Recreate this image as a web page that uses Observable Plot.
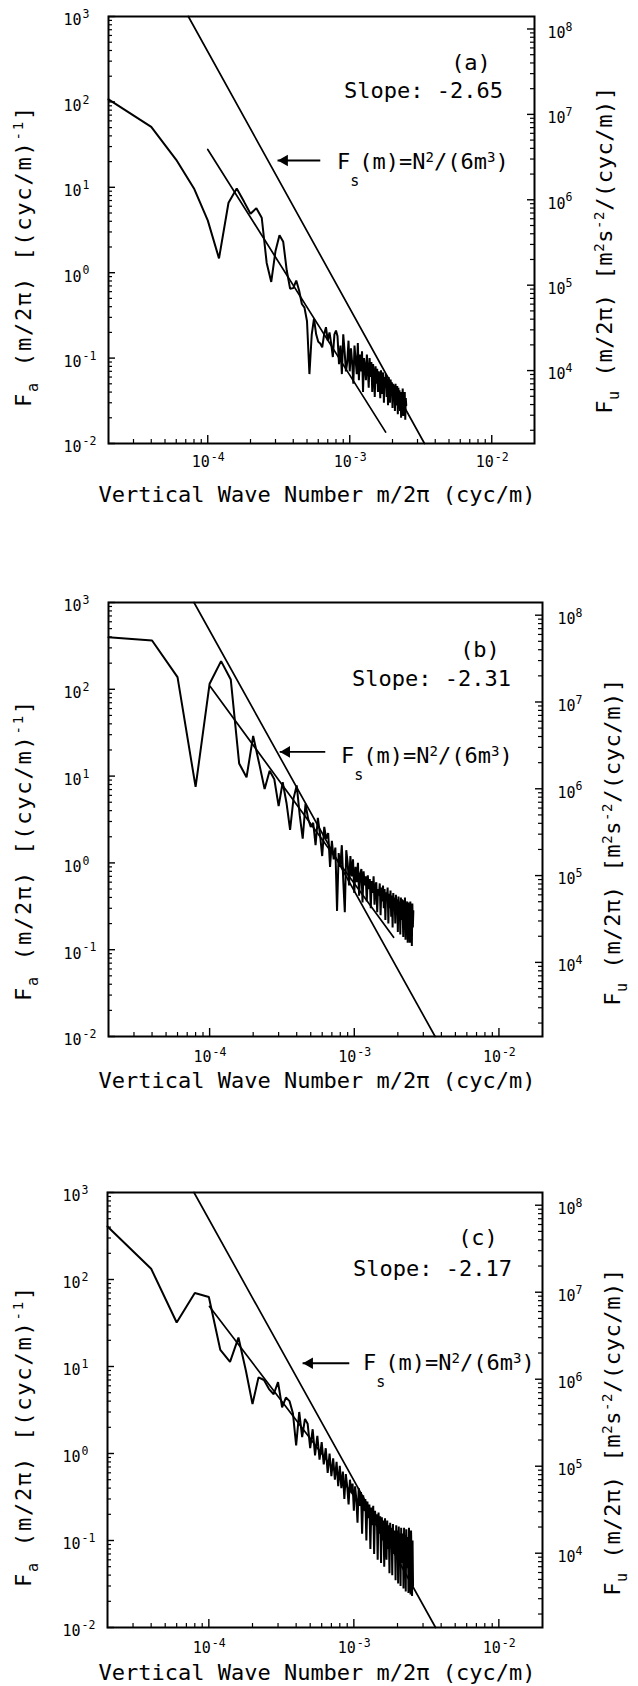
<!DOCTYPE html>
<html><head><meta charset="utf-8">
<script src="https://cdn.jsdelivr.net/npm/d3@7"></script>
<script src="https://cdn.jsdelivr.net/npm/@observablehq/plot@0.6"></script>
<style>
body{margin:0;background:#fff;}
#root{position:relative;width:638px;height:1686px;background:#fff;overflow:hidden;}
.panel{position:absolute;left:0;width:638px;}
</style></head><body><div id="root"></div>
<script>
// ---------- data ----------
const dk = 2e-5; // wavenumber spacing of spectral estimates (cyc/m)
const specA = [107,51,21,9.7,4.1,1.47,6.6,9.7,6.8,4.9,5.7,4.4,1.3,0.78,1.8,2.75,2.3,1.06,0.65,0.66,
 0.81,0.62,0.43,0.39,0.27,0.065,0.19,0.29,0.19,0.155,0.148,0.134,0.19,0.23,0.16,0.2,0.148,0.103,0.19,0.21,
 0.18,0.085,0.14,0.065,0.19,0.12,0.07,0.09,0.16,0.07,
 0.13,0.088,0.05,0.14,0.095,0.065,0.15,0.055,0.11,0.07,
 0.12,0.04,0.1,0.08,0.055,0.11,0.075,0.045,0.1,0.06,
 0.09,0.04,0.085,0.065,0.035,0.08,0.05,0.075,0.04,0.07,
 0.06,0.034,0.072,0.05,0.038,0.068,0.03,0.06,0.045,0.065,
 0.035,0.058,0.028,0.06,0.042,0.03,0.056,0.036,0.052,0.026,
 0.05,0.034,0.048,0.024,0.05,0.035,0.028,0.047,0.022,0.045,
 0.03,0.042,0.024,0.04,0.02,0.038,0.03,0.044,0.021,0.036,0.026,0.04,0.019,0.034,0.028];
const specB = [398,365,138,7.5,116,211,130,14,9.7,29,14,7.1,11.5,9.2,4.5,8.5,4.9,2.4,5.5,7.8,
 3.5,1.9,4.8,3.2,2.6,2.9,1.6,3.3,2.1,1.2,2.6,1.9,2.2,0.9,1.8,1.1,
 1.5,0.28,1.3,0.9,
 1.6,0.6,0.27,1.4,1.0,0.55,1.2,0.7,1.1,0.45,
 0.9,0.6,1.0,0.42,0.75,0.85,0.35,0.8,0.55,0.7,
 0.36,0.72,0.5,0.65,0.3,0.62,0.45,0.7,0.33,0.55,
 0.6,0.27,0.5,0.42,0.58,0.25,0.52,0.36,0.55,0.3,
 0.5,0.22,0.46,0.38,0.52,0.2,0.44,0.3,0.48,0.24,
 0.42,0.18,0.45,0.3,0.4,0.2,0.43,0.26,0.38,0.16,
 0.41,0.28,0.36,0.15,0.4,0.22,0.38,0.27,0.14,0.37,
 0.24,0.4,0.13,0.33,0.28,0.36,0.12,0.35,0.21,0.3,
 0.12,0.36,0.2,0.32,0.11,0.34,0.18,0.28];
const specC = [406,133,32,70,63,15.5,11.3,21.5,9,3.7,7.5,7.0,5.5,4.8,6.6,3.4,4.4,4.0,2.9,1.24,
 3.0,1.54,2.5,2.2,1.15,1.9,0.95,1.6,0.85,1.35,0.75,1.15,0.6,1.0,0.55,0.88,0.5,0.8,0.42,0.72,
 0.4,0.62,0.3,0.58,0.42,0.26,0.5,0.36,0.45,0.22,
 0.42,0.3,0.16,0.4,0.25,0.36,0.12,0.33,0.22,0.3,
 0.1,0.28,0.18,0.26,0.08,0.24,0.15,0.25,0.07,0.22,
 0.16,0.2,0.06,0.21,0.12,0.19,0.055,0.185,0.1,0.17,
 0.05,0.18,0.11,0.06,0.17,0.08,0.15,0.042,0.16,0.09,
 0.14,0.04,0.155,0.07,0.13,0.1,0.035,0.15,0.065,0.13,
 0.032,0.145,0.08,0.12,0.03,0.14,0.055,0.12,0.09,0.028,
 0.14,0.05,0.115,0.026,0.135,0.07,0.048,0.11,0.025,0.14,
 0.045,0.11,0.024,0.13,0.07,0.023,0.1,0.03];

// fitted power-law lines (endpoints)
const fitAx = [1.0e-4, 1.79e-3], fitAy = [27.7, 0.0136];
const fitBx = [1.01e-4, 1.87e-3], fitBy = [108, 0.139];
const fitCx = [1.01e-4, 2.0e-3], fitCy = [49, 0.072];
// F_s(m) = N^2/(6 m^3) reference lines
const fsAx = [7.3e-5, 3.36e-3], fsAy = [1000, 0.01];
const fsBx = [7.8e-5, 3.62e-3], fsBy = [1000, 0.01];
const fsCx = [7.9e-5, 3.66e-3], fsCy = [1000, 0.01];
// arrows [tail, tip]
const arrAx = [6.2e-4, 3.1e-4], arrAy = [20.6, 20.6];
const arrBx = [6.3e-4, 3.05e-4], arrBy = [19, 19];
const arrCx = [9.3e-4, 4.43e-4], arrCy = [10.9, 10.9];

const panelLabels = ["(a)", "(b)", "(c)"];
const slopes = ["Slope: -2.65", "Slope: -2.31", "Slope: -2.17"];

// axes / ticks
const xDomain = [2e-5, 2e-2];
const yDomain = [1e-2, 1e3];
const xMajor = [1e-4, 1e-3, 1e-2], xExp = ["-4", "-3", "-2"];
const yMajor = [1e-2, 1e-1, 1, 10, 100, 1000], yExp = ["-2", "-1", "0", "1", "2", "3"];
const rMajor = [1e4, 1e5, 1e6, 1e7, 1e8], rExp = ["4", "5", "6", "7", "8"];
const rFactor = 1.4e5; // F_u = F_a * factor
const mult = [2, 3, 4, 5, 6, 7, 8, 9];

const FONT = "DejaVu Sans Mono, monospace";

// ---------- layout ----------
const layouts = [
  {top: 0,    h: 560, mt: 16, mb: 117, ml: 108, mr: 104, xlab: 502, lcy: 256, rcy: 250, lab: [471, 70], slope: [503, 98], fs: [337, 169], xtd: 23, rdx: 13},
  {top: 560,  h: 590, mt: 42, mb: 114, ml: 108, mr: 96,  xlab: 528, lcy: 290, rcy: 282, lab: [480, 97], slope: [511, 126], fs: [341, 203], xtd: 25, rdx: 15},
  {top: 1150, h: 536, mt: 42, mb: 59,  ml: 107, mr: 96,  xlab: 530, lcy: 286, rcy: 282, lab: [478, 95], slope: [512, 126], fs: [363, 220], xtd: 25, rdx: 15}
];
const specs = [specA, specB, specC];
const fits = [[fitAx, fitAy], [fitBx, fitBy], [fitCx, fitCy]];
const fss = [[fsAx, fsAy], [fsBx, fsBy], [fsCx, fsCy]];
const arrs = [[arrAx, arrAy], [arrBx, arrBy], [arrCx, arrCy]];

const minorY = [-2, -1, 0, 1, 2].flatMap(e => mult.map(m => m * 10 ** e));
const minorX = [-5, -4, -3, -2].flatMap(e => mult.map(m => m * 10 ** e)).filter(v => v > 2.01e-5 && v < 1.99e-2);
const rMinor = [3, 4, 5, 6, 7, 8].flatMap(e => mult.map(m => m * 10 ** e)).filter(v => v / rFactor > 1e-2 && v / rFactor < 1e3);

const root = document.getElementById("root");

layouts.forEach((L, p) => {
  const plotW = 638 - L.ml - L.mr, plotH = L.h - L.mt - L.mb;
  const spec = specs[p].map((v, i) => ({k: (i + 1) * dk, v}));
  const fit = fits[p][0].map((x, i) => ({x, y: fits[p][1][i]}));
  const fs = fss[p][0].map((x, i) => ({x, y: fss[p][1][i]}));
  const [ax, ay] = arrs[p];

  const svg = Plot.plot({
    width: 638, height: L.h,
    marginTop: L.mt, marginBottom: L.mb, marginLeft: L.ml, marginRight: L.mr,
    style: {fontFamily: FONT, background: "white", color: "black", overflow: "visible"},
    x: {type: "log", domain: xDomain, axis: null},
    y: {type: "log", domain: yDomain, axis: null},
    marks: [
      Plot.frame({stroke: "black", strokeWidth: 2}),
      // inward ticks
      Plot.tickY(yMajor, {y: d => d, insetRight: plotW - 7, strokeWidth: 1.4}),
      Plot.tickY(minorY, {y: d => d, insetRight: plotW - 4, strokeWidth: 1.2}),
      Plot.tickY(rMajor.map(v => v / rFactor), {y: d => d, insetLeft: plotW - 7, strokeWidth: 1.4}),
      Plot.tickY(rMinor.map(v => v / rFactor), {y: d => d, insetLeft: plotW - 4, strokeWidth: 1.2}),
      Plot.tickX(xMajor, {x: d => d, insetTop: plotH - 8, strokeWidth: 1.4}),
      Plot.tickX(minorX, {x: d => d, insetTop: plotH - 4, strokeWidth: 1.2}),
      // tick labels left
      Plot.text(yMajor, {y: d => d, frameAnchor: "left", text: () => "10", textAnchor: "end", dx: -27, dy: 4, fontSize: 15}),
      Plot.text(yMajor, {y: d => d, frameAnchor: "left", text: (d, i) => yExp[i], textAnchor: "start", dx: -26, dy: -2, fontSize: 11.5}),
      // tick labels right
      Plot.text(rMajor.map(v => v / rFactor), {y: d => d, frameAnchor: "right", text: () => "10", textAnchor: "start", dx: L.rdx, dy: 4, fontSize: 15}),
      Plot.text(rMajor.map(v => v / rFactor), {y: d => d, frameAnchor: "right", text: (d, i) => rExp[i], textAnchor: "start", dx: L.rdx + 18, dy: -2, fontSize: 11.5}),
      // tick labels bottom
      Plot.text(xMajor, {x: d => d, frameAnchor: "bottom", text: () => "10", textAnchor: "end", dx: 2, dy: L.xtd, fontSize: 15}),
      Plot.text(xMajor, {x: d => d, frameAnchor: "bottom", text: (d, i) => xExp[i], textAnchor: "start", dx: 3, dy: L.xtd - 6, fontSize: 11.5}),
      // data
      Plot.line(fs, {x: "x", y: "y", strokeWidth: 1.7}),
      Plot.line(fit, {x: "x", y: "y", strokeWidth: 1.7}),
      Plot.line(spec, {x: "k", y: "v", strokeWidth: 2, strokeLinejoin: "miter"}),
      // arrow
      Plot.link([0], {x1: () => ax[0], y1: () => ay[0], x2: () => ax[1], y2: () => ay[1], strokeWidth: 1.8}),
      Plot.dot([0], {x: () => ax[1], y: () => ay[1], symbol: "triangle", rotate: -90, r: 4.3, fill: "black", stroke: "none", dx: 7})
    ]
  });

  const s = d3.select(svg);
  const txt = (x, y, size) => s.append("text").attr("x", x).attr("y", y)
      .attr("font-family", FONT).attr("font-size", size).attr("fill", "black").attr("text-anchor", "start");

  // panel label and slope
  txt(L.lab[0], L.lab[1], 22).attr("text-anchor", "middle").text(panelLabels[p]);
  txt(L.slope[0], L.slope[1], 22).attr("text-anchor", "end").text(slopes[p]);

  // F_s annotation
  const f = txt(L.fs[0], L.fs[1], 22);
  f.append("tspan").text("F");
  f.append("tspan").attr("dy", 17).attr("font-size", 15).text("s");
  f.append("tspan").attr("dy", -17).text("(m)=N");
  f.append("tspan").attr("dy", -7).attr("font-size", 14).text("2");
  f.append("tspan").attr("dy", 7).text("/(6m");
  f.append("tspan").attr("dy", -7).attr("font-size", 14).text("3");
  f.append("tspan").attr("dy", 7).text(")");

  // x label
  txt(317, L.xlab, 22).attr("text-anchor", "middle").text("Vertical Wave Number m/2\u03c0 (cyc/m)");

  // left y label
  const ly = s.append("text").attr("transform", `translate(31,${L.lcy}) rotate(-90)`)
    .attr("font-family", FONT).attr("font-size", 22).attr("letter-spacing", 1.8).attr("text-anchor", "middle").attr("fill", "black");
  ly.append("tspan").text("F");
  ly.append("tspan").attr("dy", 7).attr("font-size", 15).text("a");
  ly.append("tspan").attr("dy", -7).text(" (m/2\u03c0) [(cyc/m)");
  ly.append("tspan").attr("dy", -8).attr("font-size", 14).text("-1");
  ly.append("tspan").attr("dy", 8).text("]");

  // right y label
  const rx = 638 - L.mr + 78;
  const ry = s.append("text").attr("transform", `translate(${rx},${L.rcy}) rotate(-90)`)
    .attr("font-family", FONT).attr("font-size", 22).attr("letter-spacing", 0.6).attr("text-anchor", "middle").attr("fill", "black");
  ry.append("tspan").text("F");
  ry.append("tspan").attr("dy", 7).attr("font-size", 15).text("u");
  ry.append("tspan").attr("dy", -7).text(" (m/2\u03c0) [m");
  ry.append("tspan").attr("dy", -8).attr("font-size", 14).text("2");
  ry.append("tspan").attr("dy", 8).text("s");
  ry.append("tspan").attr("dy", -8).attr("font-size", 14).text("-2");
  ry.append("tspan").attr("dy", 8).text("/(cyc/m)]");

  const div = document.createElement("div");
  div.className = "panel";
  div.style.top = L.top + "px";
  div.style.height = L.h + "px";
  div.appendChild(svg);
  root.appendChild(div);
});
</script>
</body></html>
